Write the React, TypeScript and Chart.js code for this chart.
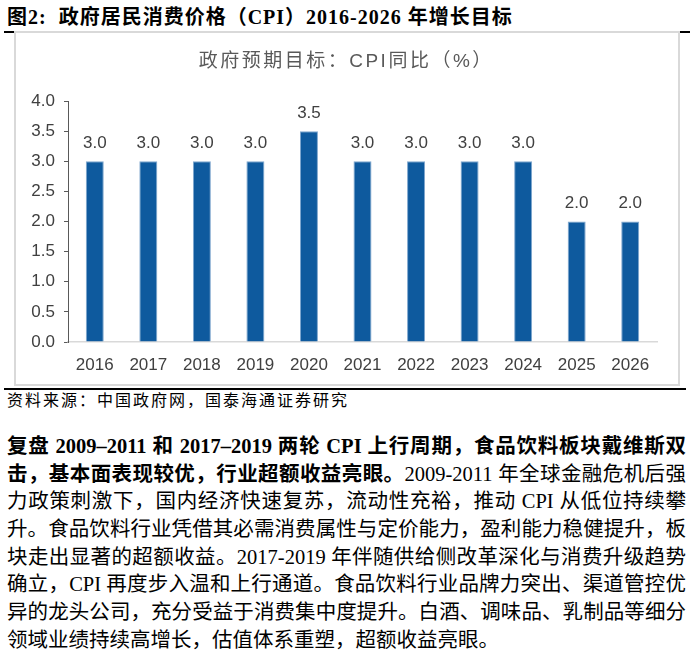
import React, { useEffect, useRef } from "react";
import { Chart, registerables } from "chart.js";

Chart.register(...registerables);

const years = ["2016", "2017", "2018", "2019", "2020", "2021", "2022", "2023", "2024", "2025", "2026"];
const cpiTarget = [3.0, 3.0, 3.0, 3.0, 3.5, 3.0, 3.0, 3.0, 3.0, 2.0, 2.0];
const yTicks = [0, 0.5, 1.0, 1.5, 2.0, 2.5, 3.0, 3.5, 4.0];

const figureTitle = "图2:  政府居民消费价格（CPI）2016-2026 年增长目标";
const chartTitle = "政府预期目标：CPI同比（%）";
const sourceText = "资料来源：中国政府网，国泰海通证券研究";

const SANS = '"Liberation Sans", Arial, "Noto Sans CJK SC", sans-serif';
const SERIF = '"Liberation Serif", "Times New Roman", "Noto Sans CJK SC", serif';

const labelPlugin = {
  id: "barLabels",
  afterDatasetsDraw(chart: any) {
    const ctx = chart.ctx;
    const meta = chart.getDatasetMeta(0);
    const data = chart.data.datasets[0].data as number[];
    ctx.save();
    ctx.font = "17px " + SANS;
    ctx.fillStyle = "#404040";
    ctx.textAlign = "center";
    ctx.textBaseline = "middle";
    meta.data.forEach((bar: any, i: number) => {
      ctx.fillText(data[i].toFixed(1), bar.x, bar.y - 18);
    });
    ctx.restore();
  },
};

const titlePlugin = {
  id: "spacedTitle",
  afterDraw(chart: any) {
    const ctx = chart.ctx;
    ctx.save();
    ctx.font = "19px " + SANS;
    ctx.fillStyle = "#595959";
    ctx.textAlign = "center";
    ctx.textBaseline = "middle";
    const spacing = 2.5;
    (ctx as any).letterSpacing = spacing + "px";
    ctx.fillText(chartTitle, chart.width / 2 - 2 + spacing / 2, 29);
    ctx.restore();
  },
};

function CpiChart() {
  const ref = useRef<HTMLCanvasElement | null>(null);
  useEffect(() => {
    if (!ref.current) return;
    const chart = new Chart(ref.current, {
      type: "bar",
      data: {
        labels: years,
        datasets: [
          {
            data: cpiTarget,
            backgroundColor: "#0E5A9E",
            borderColor: "#7EA6CE",
            borderWidth: 1,
            categoryPercentage: 1,
            barPercentage: 0.336,
          },
        ],
      },
      options: {
        animation: false,
        responsive: false,
        maintainAspectRatio: false,
        devicePixelRatio: 1,
        layout: { padding: { left: 0, right: 21, top: 68, bottom: 0 } },
        plugins: {
          legend: { display: false },
          tooltip: { enabled: false },
          title: { display: false },
        },
        scales: {
          x: {
            grid: { display: false, drawTicks: false },
            border: { display: true, color: "#d9d9d9", width: 1.5 },
            ticks: { color: "#404040", font: { family: SANS, size: 17 }, padding: 13 },
            afterFit(scale: any) {
              scale.height = 42;
            },
          },
          y: {
            min: 0,
            max: 4,
            afterBuildTicks(scale: any) {
              scale.ticks = yTicks.map((v) => ({ value: v }));
            },
            grid: { drawOnChartArea: false, drawTicks: true, tickLength: 4, color: "#595959" },
            border: { display: true, color: "#595959", width: 1 },
            ticks: {
              color: "#404040",
              font: { family: SANS, size: 17 },
              padding: 9,
              callback: (v: any) => Number(v).toFixed(1),
            },
            afterFit(scale: any) {
              scale.width = 52;
            },
          },
        },
      },
      plugins: [labelPlugin, titlePlugin],
    } as any);
    return () => chart.destroy();
  }, []);
  return (
    <canvas
      ref={ref}
      width={662}
      height={351}
      style={{ position: "absolute", left: 16, top: 33, width: 662, height: 351 }}
    />
  );
}

const bodyLines: { bold?: string; text: string }[] = [
  { bold: "复盘 2009–2011 和 2017–2019 两轮 CPI 上行周期，食品饮料板块戴维斯双", text: "" },
  { bold: "击，基本面表现较优，行业超额收益亮眼。", text: "2009-2011 年全球金融危机后强" },
  { text: "力政策刺激下，国内经济快速复苏，流动性充裕，推动 CPI 从低位持续攀" },
  { text: "升。食品饮料行业凭借其必需消费属性与定价能力，盈利能力稳健提升，板" },
  { text: "块走出显著的超额收益。2017-2019 年伴随供给侧改革深化与消费升级趋势" },
  { text: "确立，CPI 再度步入温和上行通道。食品饮料行业品牌力突出、渠道管控优" },
  { text: "异的龙头公司，充分受益于消费集中度提升。白酒、调味品、乳制品等细分" },
  { text: "领域业绩持续高增长，估值体系重塑，超额收益亮眼。" },
];

export default function App() {
  return (
    <div
      style={{
        position: "absolute",
        left: 0,
        top: 0,
        width: 693,
        height: 658,
        background: "#fff",
        overflow: "hidden",
        fontFamily: SERIF,
        color: "#000",
      }}
    >
      <div
        style={{
          position: "absolute",
          left: 7,
          top: 4,
          fontSize: 20,
          fontWeight: "bold",
          lineHeight: "26px",
          letterSpacing: 1,
          whiteSpace: "pre",
        }}
      >
        {figureTitle}
      </div>
      <div style={{ position: "absolute", left: 4, top: 31, width: 686, height: 1.5, background: "#000" }} />
      <div
        style={{
          position: "absolute",
          left: 14,
          top: 31,
          width: 666,
          height: 355,
          boxSizing: "border-box",
          border: "2px solid #d9d9d9",
          background: "#fff",
        }}
      />
      <CpiChart />
      <div style={{ position: "absolute", left: 4, top: 388, width: 682, height: 2, background: "#000" }} />
      <div
        style={{
          position: "absolute",
          left: 7,
          top: 391,
          fontSize: 16,
          letterSpacing: 2,
          lineHeight: "20px",
          whiteSpace: "pre",
        }}
      >
        {sourceText}
      </div>
      <div style={{ position: "absolute", left: 7, top: 433, width: 679 }}>
        {bodyLines.map((ln, i) => (
          <div
            key={i}
            style={{
              fontSize: 20.5,
              lineHeight: "27.7px",
              height: 27.7,
              whiteSpace: "nowrap",
              textAlign: "justify",
              textAlignLast: i === bodyLines.length - 1 ? "left" : "justify",
            } as any}
          >
            {ln.bold ? <b>{ln.bold}</b> : null}
            {ln.text}
          </div>
        ))}
      </div>
    </div>
  );
}
